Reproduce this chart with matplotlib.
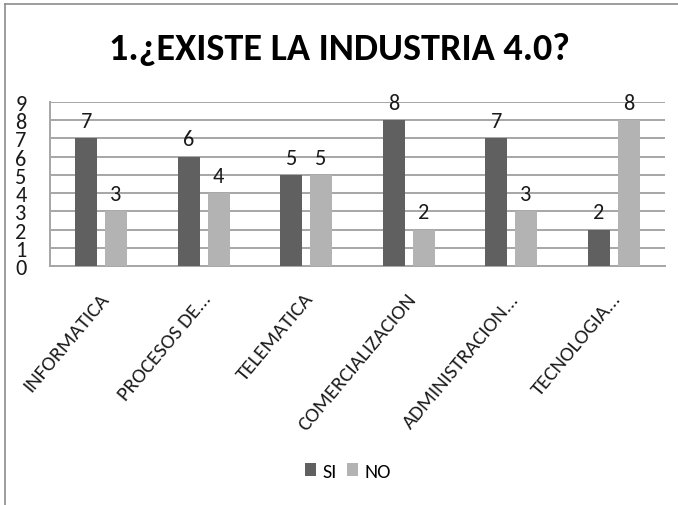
import matplotlib
matplotlib.use("Agg")
import matplotlib.pyplot as plt
import matplotlib.transforms as mtransforms
import numpy as np

categories = ["INFORMATICA", "PROCESOS DE...", "TELEMATICA",
              "COMERCIALIZACION", "ADMINISTRACION...", "TECNOLOGIA..."]
si_values = [7, 6, 5, 8, 7, 2]
no_values = [3, 4, 5, 2, 3, 8]
series_names = ["SI", "NO"]
y_ticks = list(range(0, 10))

plt.rcParams["font.family"] = ["Carlito", "DejaVu Sans"]

fig = plt.figure(figsize=(6.78, 5.06), dpi=100)
W, H = 678, 506
ax = fig.add_axes([50 / W, 1 - 267 / H, (665 - 50) / W, (267 - 103) / H])

x = np.arange(len(categories))
bw = 0.215
off = 0.145
c_si, c_no = "#606060", "#b3b3b3"
b1 = ax.bar(x - off, si_values, bw, color=c_si, zorder=3, label=series_names[0])
b2 = ax.bar(x + off, no_values, bw, color=c_no, zorder=3, label=series_names[1])

for bars, vals in ((b1, si_values), (b2, no_values)):
    for r, v in zip(bars, vals):
        ax.text(r.get_x() + r.get_width() / 2, v + 0.4, str(v),
                ha="center", va="bottom", fontsize=16, color="#1a1a1a")

ax.set_xlim(-0.5, len(categories) - 0.5)
ax.set_ylim(0, 9)
ax.set_yticks(y_ticks)
ax.set_yticklabels([str(t) for t in y_ticks], fontsize=16, color="#1a1a1a")
ax.tick_params(axis="y", length=0, pad=17)
ax.grid(axis="y", color="#a6a6a6", linewidth=1.4, zorder=0)
ax.set_axisbelow(True)

ax.set_xticks(x)
ax.set_xticklabels(categories, rotation=50, ha="right", va="center",
                   rotation_mode="anchor", fontsize=15, color="#1a1a1a")
ax.tick_params(axis="x", length=0, pad=21)
shift = mtransforms.ScaledTranslation(4 / 100, 0, fig.dpi_scale_trans)
for lbl in ax.get_xticklabels():
    lbl.set_transform(lbl.get_transform() + shift)

for s in ("top", "right"):
    ax.spines[s].set_visible(False)
for s in ("left", "bottom"):
    ax.spines[s].set_color("#a6a6a6")
    ax.spines[s].set_linewidth(1.4)

fig.text(339 / W, 1 - 49 / H, "1.¿EXISTE LA INDUSTRIA 4.0?", ha="center", va="center",
         fontsize=27.5, fontweight="bold", color="#000000")

leg = fig.legend(handles=[b1, b2], labels=series_names, loc="center",
                 bbox_to_anchor=(348 / W, 1 - 472 / H), ncol=2, frameon=False,
                 fontsize=14.5, handlelength=0.55, handleheight=0.65,
                 handletextpad=0.3, columnspacing=0.55, borderpad=0.1)

# chart border on the left and top edges
fig.add_artist(plt.Line2D([5 / W, 5 / W], [0, 1 - 5 / H], color="#8c8c8c", linewidth=1.2))
fig.add_artist(plt.Line2D([5 / W, 1], [1 - 5 / H, 1 - 5 / H], color="#8c8c8c", linewidth=1.2))

fig.savefig("out.png", dpi=100)
